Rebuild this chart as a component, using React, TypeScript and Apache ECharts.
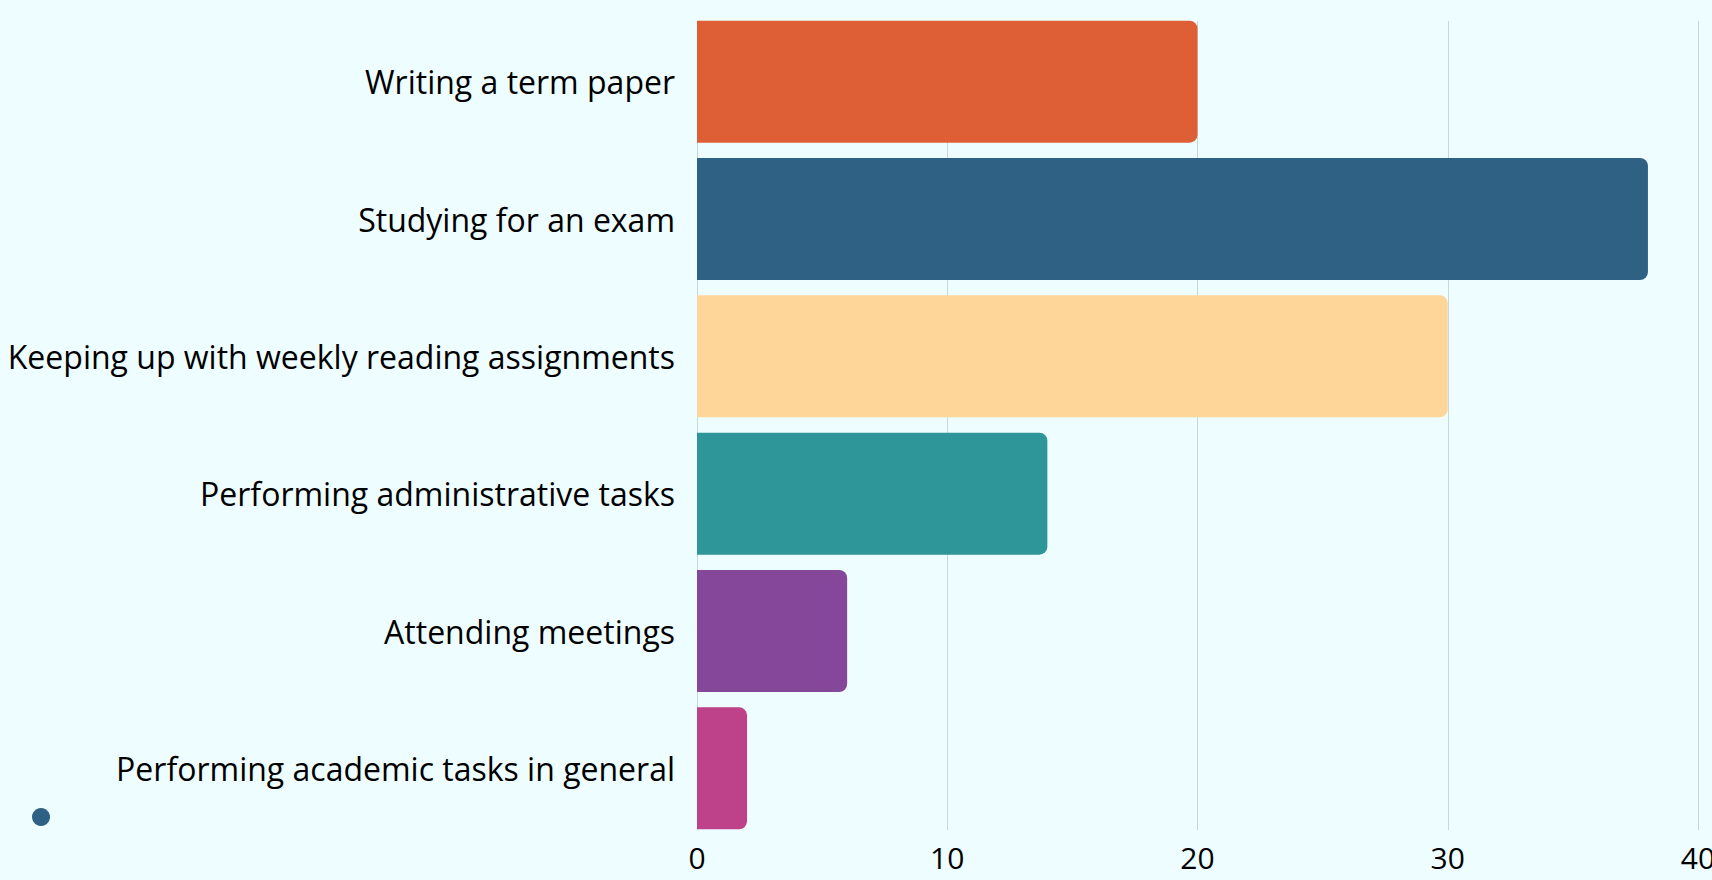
import React, { useEffect, useRef } from "react";
import * as echarts from "echarts";

const categories = [
  "Writing a term paper",
  "Studying for an exam",
  "Keeping up with weekly reading assignments",
  "Performing administrative tasks",
  "Attending meetings",
  "Performing academic tasks in general",
];
const values = [20, 38, 30, 14, 6, 2];
const barColors = ["#DE5F36", "#2E6183", "#FFD699", "#2E9598", "#854799", "#BE428A"];
const xTicks = [0, 10, 20, 30, 40];

export default function App() {
  const ref = useRef<HTMLDivElement>(null);
  useEffect(() => {
    document.body.style.margin = "0";
    document.body.style.background = "#EEFDFF";
    const chart = echarts.init(ref.current!, null, { renderer: "svg" });
    const xMin = xTicks[0];
    const xMax = xTicks[xTicks.length - 1];
    chart.setOption({
      animation: false,
      backgroundColor: "#EEFDFF",
      textStyle: { fontFamily: "Open Sans" },
      grid: [
        { left: 697, right: 14, top: 13, bottom: 43, containLabel: false, outerBoundsMode: "none" },
        { left: 697, right: 14, top: 21, bottom: 50, containLabel: false, outerBoundsMode: "none" },
      ],
      xAxis: [
        {
          type: "value",
          gridIndex: 0,
          min: xMin,
          max: xMax,
          interval: 10,
          show: false,
          splitLine: { show: false },
        },
        {
          type: "value",
          gridIndex: 1,
          min: xMin,
          max: xMax,
          interval: 10,
          axisLine: { show: false },
          axisTick: { show: false },
          splitLine: { show: true, lineStyle: { color: "#C5DAD7", width: 1 } },
          axisLabel: { color: "#000", fontSize: 30, margin: 12, fontFamily: "Open Sans" },
        },
      ],
      yAxis: [
        {
          type: "category",
          gridIndex: 0,
          inverse: true,
          data: categories,
          axisLine: { show: false },
          axisTick: { show: false },
          splitLine: { show: false },
          axisLabel: { color: "#000", fontSize: 32, margin: 22, fontFamily: "Open Sans" },
        },
        {
          type: "category",
          gridIndex: 1,
          inverse: true,
          data: categories,
          show: false,
          splitLine: { show: false },
        },
      ],
      series: [
        {
          type: "bar",
          xAxisIndex: 0,
          yAxisIndex: 0,
          barWidth: 122,
          data: values.map((v, i) => ({
            value: v,
            itemStyle: { color: barColors[i], borderRadius: [0, 8, 8, 0] },
          })),
        },
      ],
      graphic: [
        {
          type: "circle",
          shape: { cx: 41, cy: 817, r: 9 },
          style: { fill: "#2E6183" },
        },
      ],
    });
    return () => chart.dispose();
  }, []);
  return <div ref={ref} style={{ width: 1712, height: 880 }} />;
}
